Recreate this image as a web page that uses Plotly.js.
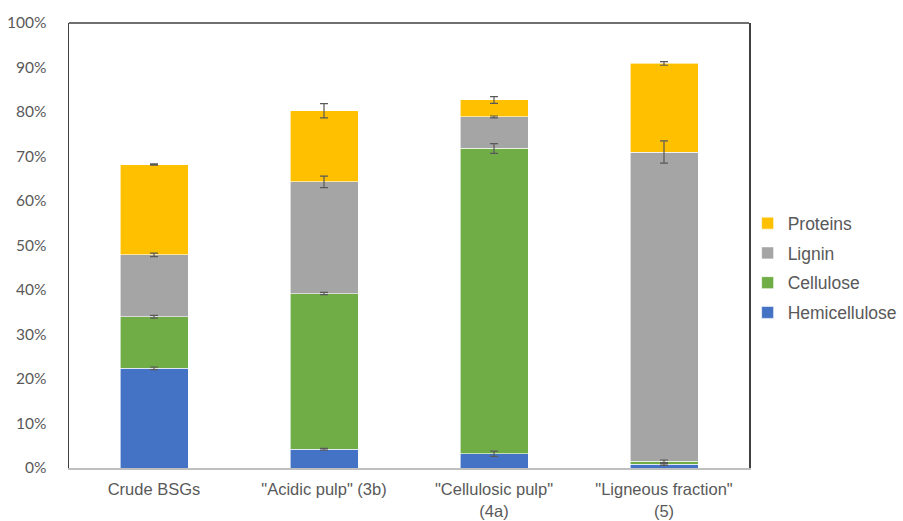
<!DOCTYPE html>
<html>
<head>
<meta charset="utf-8">
<script src="https://cdn.plot.ly/plotly-3.0.1.min.js"></script>
<style>html,body{margin:0;padding:0;background:#fff;}#chart{width:903px;height:521px;}</style>
</head>
<body>
<div id="chart"></div>
<script>
const categories = ['Crude BSGs', '"Acidic pulp" (3b)', '"Cellulosic pulp"<br>(4a)', '"Ligneous fraction"<br>(5)'];
const hemicellulose = [22.4, 4.2, 3.2, 0.8];
const hemicelluloseErr = [0.3, 0.2, 0.6, 0.2];
const cellulose = [11.6, 35.0, 68.6, 0.7];
const celluloseErr = [0.3, 0.25, 1.1, 0.3];
const lignin = [13.9, 25.1, 7.1, 69.5];
const ligninErr = [0.4, 1.3, 0.2, 2.5];
const proteins = [20.3, 16.0, 3.8, 19.9];
const proteinsErr = [0.15, 1.6, 0.75, 0.4];

const series = [
  {name: 'Hemicellulose', y: hemicellulose, err: hemicelluloseErr, color: '#4472C4'},
  {name: 'Cellulose', y: cellulose, err: celluloseErr, color: '#70AD47'},
  {name: 'Lignin', y: lignin, err: ligninErr, color: '#A5A5A5'},
  {name: 'Proteins', y: proteins, err: proteinsErr, color: '#FFC000'}
];
const data = [];
series.forEach((s, k) => {
  data.push({
    type: 'bar', name: s.name, x: categories, y: s.y, legendgroup: s.name, legendrank: 1000 - k,
    marker: {color: s.color, line: {color: '#ffffff', width: 0.6}}
  });
});
// error bars drawn on top of the stacked segments (at each cumulative segment top)
const cum = categories.map(() => 0);
series.forEach(s => {
  const tops = s.y.map((v, i) => (cum[i] += v));
  data.push({
    type: 'scatter', mode: 'markers', x: categories, y: tops, showlegend: false, hoverinfo: 'skip',
    marker: {opacity: 0, size: 1},
    error_y: {type: 'data', array: s.err, visible: true, color: '#595959', thickness: 1.2, width: 4}
  });
});
const layout = {
  width: 903, height: 521,
  margin: {l: 69, r: 154, t: 23, b: 53, autoexpand: false},
  paper_bgcolor: '#fff', plot_bgcolor: '#fff',
  barmode: 'stack', bargap: 0.6,
  showlegend: true,
  legend: {x: 0.998, xanchor: 'left', y: 0.45, yanchor: 'middle', traceorder: 'grouped', tracegroupgap: 4,
           font: {family: 'Liberation Sans, Arial, sans-serif', size: 17.5, color: '#595959'}, bgcolor: 'rgba(0,0,0,0)'},
  xaxis: {showline: true, linecolor: '#BFBFBF', linewidth: 1.5, showgrid: false, ticks: '', zeroline: false,
          ticklabelstandoff: 6,
          tickfont: {family: 'Liberation Sans, Arial, sans-serif', size: 16.5, color: '#595959'}},
  yaxis: {range: [0, 100], dtick: 10, ticksuffix: '%', showgrid: false, zeroline: false, showline: true, mirror: true,
          linecolor: '#404040', linewidth: 1.5, ticks: '', ticklabelstandoff: 18,
          tickfont: {family: 'Lato, Carlito, sans-serif', size: 15.5, color: '#595959'}},
  shapes: [{type: 'line', xref: 'paper', yref: 'paper', x0: 0, x1: 1, y0: 1, y1: 1, line: {color: '#404040', width: 1.5}}]
};
Plotly.newPlot('chart', data, layout, {displayModeBar: false, staticPlot: true});
</script>
</body>
</html>
